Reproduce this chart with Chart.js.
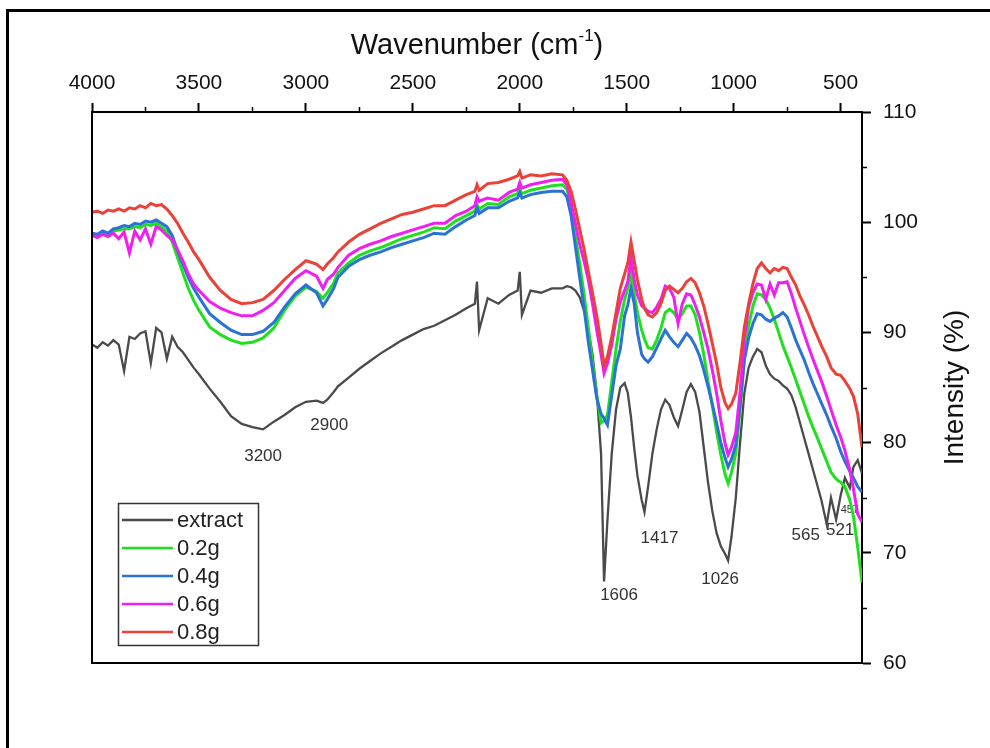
<!DOCTYPE html>
<html>
<head>
<meta charset="utf-8">
<title>FTIR spectra</title>
<script src="https://cdn.jsdelivr.net/npm/chart.js@4.4.1/dist/chart.umd.min.js"></script>
<style>
  html, body { margin: 0; padding: 0; background: #fff; }
  canvas { display: block; }
</style>
</head>
<body>
<canvas id="ftir" width="990" height="748"></canvas>
<script>
// wavenumber grid (cm-1), shared by every spectrum
const wavenumber = [
  4000, 3975, 3950, 3925, 3900, 3875, 3850, 3825, 3800, 3775,
  3750, 3725, 3700, 3675, 3650, 3625, 3600, 3575, 3550, 3525,
  3500, 3450, 3400, 3350, 3300, 3250, 3200, 3150, 3100, 3050,
  3000, 2950, 2920, 2900, 2870, 2850, 2800, 2750, 2700, 2650,
  2600, 2550, 2500, 2450, 2400, 2350, 2300, 2250, 2210, 2200,
  2190, 2150, 2100, 2050, 2010, 2000, 1990, 1950, 1900, 1850,
  1800, 1780, 1760, 1740, 1720, 1700, 1680, 1660, 1640, 1620,
  1606, 1590, 1570, 1550, 1530, 1510, 1495, 1480, 1465, 1450,
  1430, 1417, 1400, 1380, 1360, 1340, 1320, 1300, 1280, 1260,
  1240, 1220, 1200, 1180, 1160, 1140, 1120, 1100, 1080, 1060,
  1040, 1026, 1010, 990, 970, 950, 930, 910, 890, 870,
  850, 830, 810, 790, 770, 750, 730, 710, 690, 670,
  650, 630, 610, 590, 565, 545, 521, 500, 480, 457,
  440, 420, 400
];

const extract = [
  88.9, 88.6, 89.1, 88.8, 89.3, 88.9, 86.5, 89.6, 89.4, 89.9,
  90.1, 87.2, 90.4, 90.0, 87.6, 89.6, 88.7, 88.2, 87.5, 86.8,
  86.2, 84.9, 83.7, 82.4, 81.7, 81.4, 81.2, 81.9, 82.5, 83.2,
  83.7, 83.8, 83.6, 83.9, 84.6, 85.1, 85.9, 86.7, 87.4, 88.1,
  88.7, 89.3, 89.8, 90.3, 90.6, 91.1, 91.6, 92.2, 92.6, 94.6,
  90.2, 93.1, 92.6, 93.4, 93.8, 95.5, 91.6, 93.8, 93.6, 94.0,
  94.0, 94.2, 94.1, 93.8, 93.2, 92.0, 90.3, 88.0, 84.5, 79.0,
  67.4, 73.0, 79.0, 83.0, 85.0, 85.4, 84.5, 82.3, 79.5, 77.0,
  74.8, 73.7, 76.0, 79.0, 81.2, 83.0, 83.9, 83.4, 82.3, 81.5,
  83.0, 84.6, 85.3, 84.6, 82.8, 79.6, 76.4, 73.8, 71.8, 70.6,
  69.9, 69.3, 71.5, 75.0, 80.0, 84.5, 86.8, 87.8, 88.5, 88.2,
  87.0, 86.2, 85.8, 85.6, 85.2, 84.9, 84.3, 83.2, 81.8, 80.4,
  79.0, 77.6, 76.2, 74.8, 72.6, 75.0, 73.0, 75.2, 76.8, 75.9,
  77.8, 78.4, 77.2
];

const dose02 = [
  98.9, 98.8, 99.0, 98.9, 99.2, 99.3, 99.4, 99.4, 99.6, 99.5,
  99.8, 99.7, 99.9, 99.6, 99.2, 98.2, 96.8, 95.4, 94.0, 92.9,
  92.0, 90.5, 89.8, 89.3, 89.0, 89.1, 89.5, 90.4, 92.0, 93.3,
  94.1, 93.7, 93.1, 93.6, 94.5, 95.4, 96.3, 97.0, 97.4, 97.7,
  98.1, 98.5, 98.8, 99.1, 99.5, 99.4, 100.1, 100.6, 101.0, 101.6,
  101.2, 101.7, 101.6, 102.3, 102.6, 103.0, 102.6, 102.9, 103.1, 103.3,
  103.4, 103.0, 101.5, 98.8, 96.3, 93.5, 90.5, 87.2, 84.3, 81.8,
  82.0, 82.5, 85.5, 88.5, 91.0, 93.0, 94.0, 95.4, 93.5, 91.8,
  90.2, 89.4, 88.6, 88.5, 89.3, 90.4, 91.8, 92.1, 91.8, 91.2,
  91.7, 92.4, 92.4, 91.6, 90.0, 88.0, 85.6, 83.4, 81.0, 78.9,
  77.1, 76.3, 77.3, 79.0, 83.0, 87.6, 90.6, 92.4, 93.5, 93.4,
  93.0, 92.2, 91.2, 90.0, 88.8, 87.8, 86.8, 85.7, 84.6, 83.5,
  82.4, 81.4, 80.5, 79.5, 78.3, 77.3, 76.7, 76.4, 76.0, 74.8,
  73.3, 70.5, 67.3
];

const dose04 = [
  99.0, 98.9, 99.2, 99.0, 99.4, 99.5, 99.7, 99.6, 99.9, 99.8,
  100.1, 100.0, 100.2, 99.9, 99.6, 98.8, 97.4, 96.2, 95.0, 94.0,
  93.2, 91.7, 90.9, 90.2, 89.8, 89.8, 90.1, 90.9, 92.3, 93.5,
  94.3, 93.6, 92.4, 93.0, 94.0, 95.0, 96.0, 96.6, 97.0, 97.3,
  97.7, 98.0, 98.3, 98.6, 99.0, 98.9, 99.6, 100.2, 100.6, 101.3,
  100.8, 101.3, 101.3, 101.9, 102.2, 102.7, 102.2, 102.5, 102.7, 102.8,
  102.8, 102.3, 100.6, 97.8, 95.0, 92.3, 89.2, 86.6, 84.0, 82.6,
  82.2, 81.6, 84.3, 87.0, 88.5, 91.5, 92.5, 94.0, 92.6, 90.0,
  88.0, 87.6, 87.3, 87.8, 88.6, 89.4, 90.2, 89.6, 89.1, 88.7,
  89.3, 89.9, 89.5, 88.8, 87.9, 86.6, 85.1, 83.5, 81.8, 80.0,
  78.6, 77.8, 78.5, 79.8, 83.5, 87.5, 89.5, 90.8, 91.7, 91.6,
  91.2, 91.0, 91.3, 91.5, 91.8, 91.4, 90.4, 89.3, 88.4, 87.5,
  86.4, 85.4, 84.5, 83.6, 82.5, 81.5, 80.4, 79.2, 78.3, 77.4,
  76.8, 76.0, 75.5
];

const dose06 = [
  98.8, 98.6, 98.9, 98.7, 99.0, 98.5, 99.1, 97.2, 99.2, 98.4,
  99.4, 98.0, 99.6, 99.3, 98.8, 98.4, 97.5, 96.5, 95.3, 94.4,
  93.8, 92.8, 92.2, 91.8, 91.5, 91.5, 92.0, 92.7, 93.8, 94.9,
  95.6, 95.1, 94.0, 94.8, 95.3, 95.9, 97.0, 97.6, 98.0, 98.3,
  98.7, 99.0, 99.3, 99.6, 99.9, 99.9, 100.6, 101.0, 101.5, 102.3,
  101.9, 102.2, 102.0, 102.7, 103.0, 103.6, 103.1, 103.4, 103.6, 103.8,
  103.9, 103.4, 101.8, 99.9, 98.0, 96.5, 94.8, 92.6, 90.2, 88.0,
  86.3, 87.2, 88.9, 91.2, 92.8, 93.8, 94.6, 96.8, 94.8, 93.4,
  92.4, 92.2, 91.9, 91.8, 92.3, 93.0, 94.2, 94.0, 93.2, 90.8,
  92.6, 93.5, 93.4, 92.5, 91.4, 90.0, 88.5, 86.6, 84.5, 82.0,
  79.9, 78.9, 79.6, 80.9, 84.6, 89.4, 92.3, 93.6, 94.4, 94.3,
  93.0, 94.4, 93.4, 94.5, 94.5, 94.6, 93.5, 92.2, 91.0, 89.8,
  88.7, 87.6, 86.6, 85.6, 84.2, 83.0, 81.6, 80.5, 79.3, 77.5,
  75.8, 73.5, 72.8
];

const dose08 = [
  100.9, 101.0, 100.8, 101.1, 101.0, 101.2, 101.0, 101.3, 101.2, 101.5,
  101.3, 101.7, 101.5, 101.6, 101.2, 100.6, 99.9, 99.0, 98.2, 97.3,
  96.6, 95.0, 93.8, 93.0, 92.6, 92.7, 93.0, 93.8, 94.8, 95.7,
  96.5, 96.2, 95.7, 96.2, 96.8, 97.3, 98.2, 98.9, 99.4, 99.9,
  100.3, 100.7, 100.9, 101.2, 101.5, 101.5, 102.0, 102.5, 102.8, 103.4,
  102.9, 103.5, 103.6, 103.9, 104.2, 104.6, 104.0, 104.3, 104.2, 104.4,
  104.3, 103.8, 102.8, 101.2, 99.4, 97.6, 95.6, 93.6, 91.5, 89.0,
  87.0, 87.8, 89.6, 91.8, 94.0, 95.3, 96.3, 98.2, 96.5, 94.8,
  93.0, 92.2, 91.6, 91.4, 91.8, 92.6, 93.8, 94.2, 93.9, 93.6,
  94.0, 94.6, 94.9, 94.5, 93.6, 92.4, 90.8, 89.0, 87.2, 85.0,
  83.6, 83.1, 83.5, 84.5, 87.3, 90.5, 92.6, 94.4, 95.8, 96.3,
  95.8, 95.4, 95.8, 95.6, 95.9, 95.8, 95.0, 94.3, 93.3, 92.5,
  91.6, 90.6, 89.7, 88.8, 87.8, 86.8, 86.2, 86.1, 85.6, 84.9,
  84.2, 82.6, 79.6
];

const seriesNames = ['extract', '0.2g', '0.4g', '0.6g', '0.8g'];
const seriesColors = ['#4a4a4a', '#1fe01f', '#2b72d6', '#f01ef0', '#ea4238'];

const xTickValues = [4000, 3500, 3000, 2500, 2000, 1500, 1000, 500];
const xMinorTicks = [3750, 3250, 2750, 2250, 1750, 1250, 750];
const yTickValues = [60, 70, 80, 90, 100, 110];
const yMinorTicks = [65, 75, 85, 95, 105];

// band assignments written under the extract spectrum
const peakLabels = [
  { text: '3200', wn: 3200, level: 78.8, dx: 0, size: 17 },
  { text: '2900', wn: 2900, level: 81.6, dx: 2, size: 17 },
  { text: '1606', wn: 1606, level: 66.1, dx: 15, size: 17 },
  { text: '1417', wn: 1417, level: 71.3, dx: 15, size: 17 },
  { text: '1026', wn: 1026, level: 67.6, dx: -8, size: 17 },
  { text: '565', wn: 565, level: 71.6, dx: -21, size: 17 },
  { text: '521', wn: 521, level: 72.0, dx: 4, size: 17 },
  { text: '457', wn: 457, level: 73.9, dx: 0, size: 11 }
];

const FONT = '"Liberation Sans", Arial, sans-serif';
const allSeries = [extract, dose02, dose04, dose06, dose08];

const datasets = allSeries.map((vals, i) => ({
  label: seriesNames[i],
  data: vals.map((v, j) => ({ x: wavenumber[j], y: v })),
  borderColor: seriesColors[i],
  borderWidth: i === 0 ? 2.3 : 3,
  pointRadius: 0,
  tension: 0,
  fill: false,
  order: allSeries.length - i
}));

const decor = {
  id: 'decor',
  beforeDraw(chart) {
    const ctx = chart.ctx;
    ctx.save();
    ctx.fillStyle = '#fff';
    ctx.fillRect(0, 0, chart.width, chart.height);
    ctx.restore();
  },
  beforeDatasetsDraw(chart) {
    const { ctx, scales: { x, y } } = chart;
    ctx.save();
    ctx.fillStyle = '#333';
    ctx.textAlign = 'center';
    ctx.textBaseline = 'middle';
    peakLabels.forEach(p => {
      ctx.font = p.size + 'px ' + FONT;
      ctx.fillText(p.text, x.getPixelForValue(p.wn) + p.dx, y.getPixelForValue(p.level));
    });
    ctx.restore();
  },
  afterDraw(chart) {
    const { ctx, chartArea: a, scales: { x, y } } = chart;
    ctx.save();

    // figure frame
    ctx.strokeStyle = '#000';
    ctx.lineWidth = 3;
    ctx.strokeRect(7.5, 10.5, 1200, 1000);

    // left and bottom sides of the plot box
    ctx.lineWidth = 2;
    ctx.beginPath();
    ctx.moveTo(a.left, a.top);
    ctx.lineTo(a.left, a.bottom);
    ctx.lineTo(a.right, a.bottom);
    ctx.stroke();

    // minor ticks
    ctx.lineWidth = 1.5;
    ctx.beginPath();
    xMinorTicks.forEach(v => {
      const px = Math.round(x.getPixelForValue(v)) + 0.5;
      ctx.moveTo(px, a.top);
      ctx.lineTo(px, a.top - 5);
    });
    yMinorTicks.forEach(v => {
      const py = Math.round(y.getPixelForValue(v)) + 0.5;
      ctx.moveTo(a.right, py);
      ctx.lineTo(a.right + 5, py);
    });
    ctx.stroke();

    // axis titles
    ctx.fillStyle = '#111';
    ctx.textBaseline = 'middle';
    const main = 'Wavenumber (cm';
    const sup = '-1';
    ctx.font = '29px ' + FONT;
    const wMain = ctx.measureText(main).width;
    const wClose = ctx.measureText(')').width;
    ctx.font = '17px ' + FONT;
    const wSup = ctx.measureText(sup).width;
    const tx = (a.left + a.right) / 2 - (wMain + wSup + wClose) / 2;
    const ty = 46;
    ctx.textAlign = 'left';
    ctx.font = '29px ' + FONT;
    ctx.fillText(main, tx, ty);
    ctx.font = '17px ' + FONT;
    ctx.fillText(sup, tx + wMain, ty - 10);
    ctx.font = '29px ' + FONT;
    ctx.fillText(')', tx + wMain + wSup, ty);

    ctx.save();
    ctx.translate(955, (a.top + a.bottom) / 2);
    ctx.rotate(-Math.PI / 2);
    ctx.textAlign = 'center';
    ctx.font = '28px ' + FONT;
    ctx.fillText('Intensity (%)', 0, 0);
    ctx.restore();

    // legend
    const lx = 118, ly = 503, lw = 140, lh = 142;
    ctx.fillStyle = '#fff';
    ctx.fillRect(lx, ly, lw, lh);
    ctx.strokeStyle = '#333';
    ctx.lineWidth = 1.5;
    ctx.strokeRect(lx + 0.5, ly + 0.5, lw, lh);
    ctx.font = '22px ' + FONT;
    ctx.textAlign = 'left';
    chart.data.datasets.forEach((ds, i) => {
      const cy = ly + 17 + i * 28;
      ctx.strokeStyle = ds.borderColor;
      ctx.lineWidth = 2.5;
      ctx.beginPath();
      ctx.moveTo(lx + 4, cy);
      ctx.lineTo(lx + 55, cy);
      ctx.stroke();
      ctx.fillStyle = '#222';
      ctx.fillText(ds.label, lx + 59, cy + 1);
    });

    ctx.restore();
  }
};

new Chart(document.getElementById('ftir'), {
  type: 'line',
  data: { datasets },
  options: {
    responsive: false,
    animation: false,
    devicePixelRatio: 1,
    layout: { padding: { left: 92, right: 0, top: 0, bottom: 85 } },
    plugins: {
      legend: { display: false },
      tooltip: { enabled: false }
    },
    scales: {
      x: {
        type: 'linear',
        position: 'top',
        reverse: true,
        min: 400,
        max: 4000,
        afterBuildTicks: s => { s.ticks = xTickValues.map(v => ({ value: v })); },
        afterFit: s => { s.height = 112; },
        ticks: {
          font: { family: FONT, size: 21 },
          color: '#111',
          padding: 7,
          maxRotation: 0,
          callback: v => String(v)
        },
        grid: { drawOnChartArea: false, drawTicks: true, tickLength: 9, tickWidth: 2, tickColor: '#000' },
        border: { display: true, color: '#000', width: 2 }
      },
      y: {
        type: 'linear',
        position: 'right',
        min: 60,
        max: 110,
        afterBuildTicks: s => { s.ticks = yTickValues.map(v => ({ value: v })); },
        afterFit: s => { s.width = 128; },
        ticks: {
          font: { family: FONT, size: 21 },
          color: '#111',
          padding: 12,
          callback: v => String(v)
        },
        grid: { drawOnChartArea: false, drawTicks: true, tickLength: 9, tickWidth: 2, tickColor: '#000' },
        border: { display: true, color: '#000', width: 2 }
      }
    }
  },
  plugins: [decor]
});
</script>
</body>
</html>
